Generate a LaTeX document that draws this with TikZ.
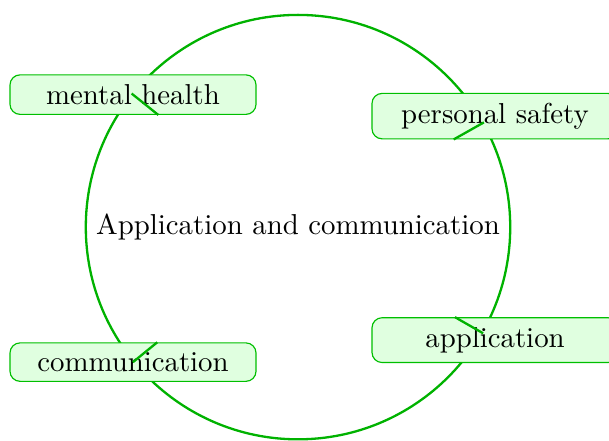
\documentclass[tikz,border=0pt]{standalone}
\begin{document}
\begin{tikzpicture}[x=1pt,y=1pt,
  hub/.style={circle, draw=green!70!black, thick, inner sep=0.3333em},
  leaf/.style={rectangle, rounded corners=3.5pt, draw=green!75!black, fill=green!12, minimum width=3cm},
  link/.style={draw=green!70!black, thick}]
\useasboundingbox (-103.4,-73.9) rectangle (107.9,78.8);
\node[hub] (c) at (0,0) {Application and communication};
\node[leaf] (mh) at (-57.25,45.97) {mental health};
\node[leaf] (ps) at (68.35,38.51) {personal safety};
\node[leaf] (ap) at (68.35,-39.21) {application};
\node[leaf] (co) at (-57.25,-46.84) {communication};
\draw[link] (c) -- (mh);
\draw[link] (c) -- (ps);
\draw[link] (c) -- (ap);
\draw[link] (c) -- (co);
\end{tikzpicture}
\end{document}
